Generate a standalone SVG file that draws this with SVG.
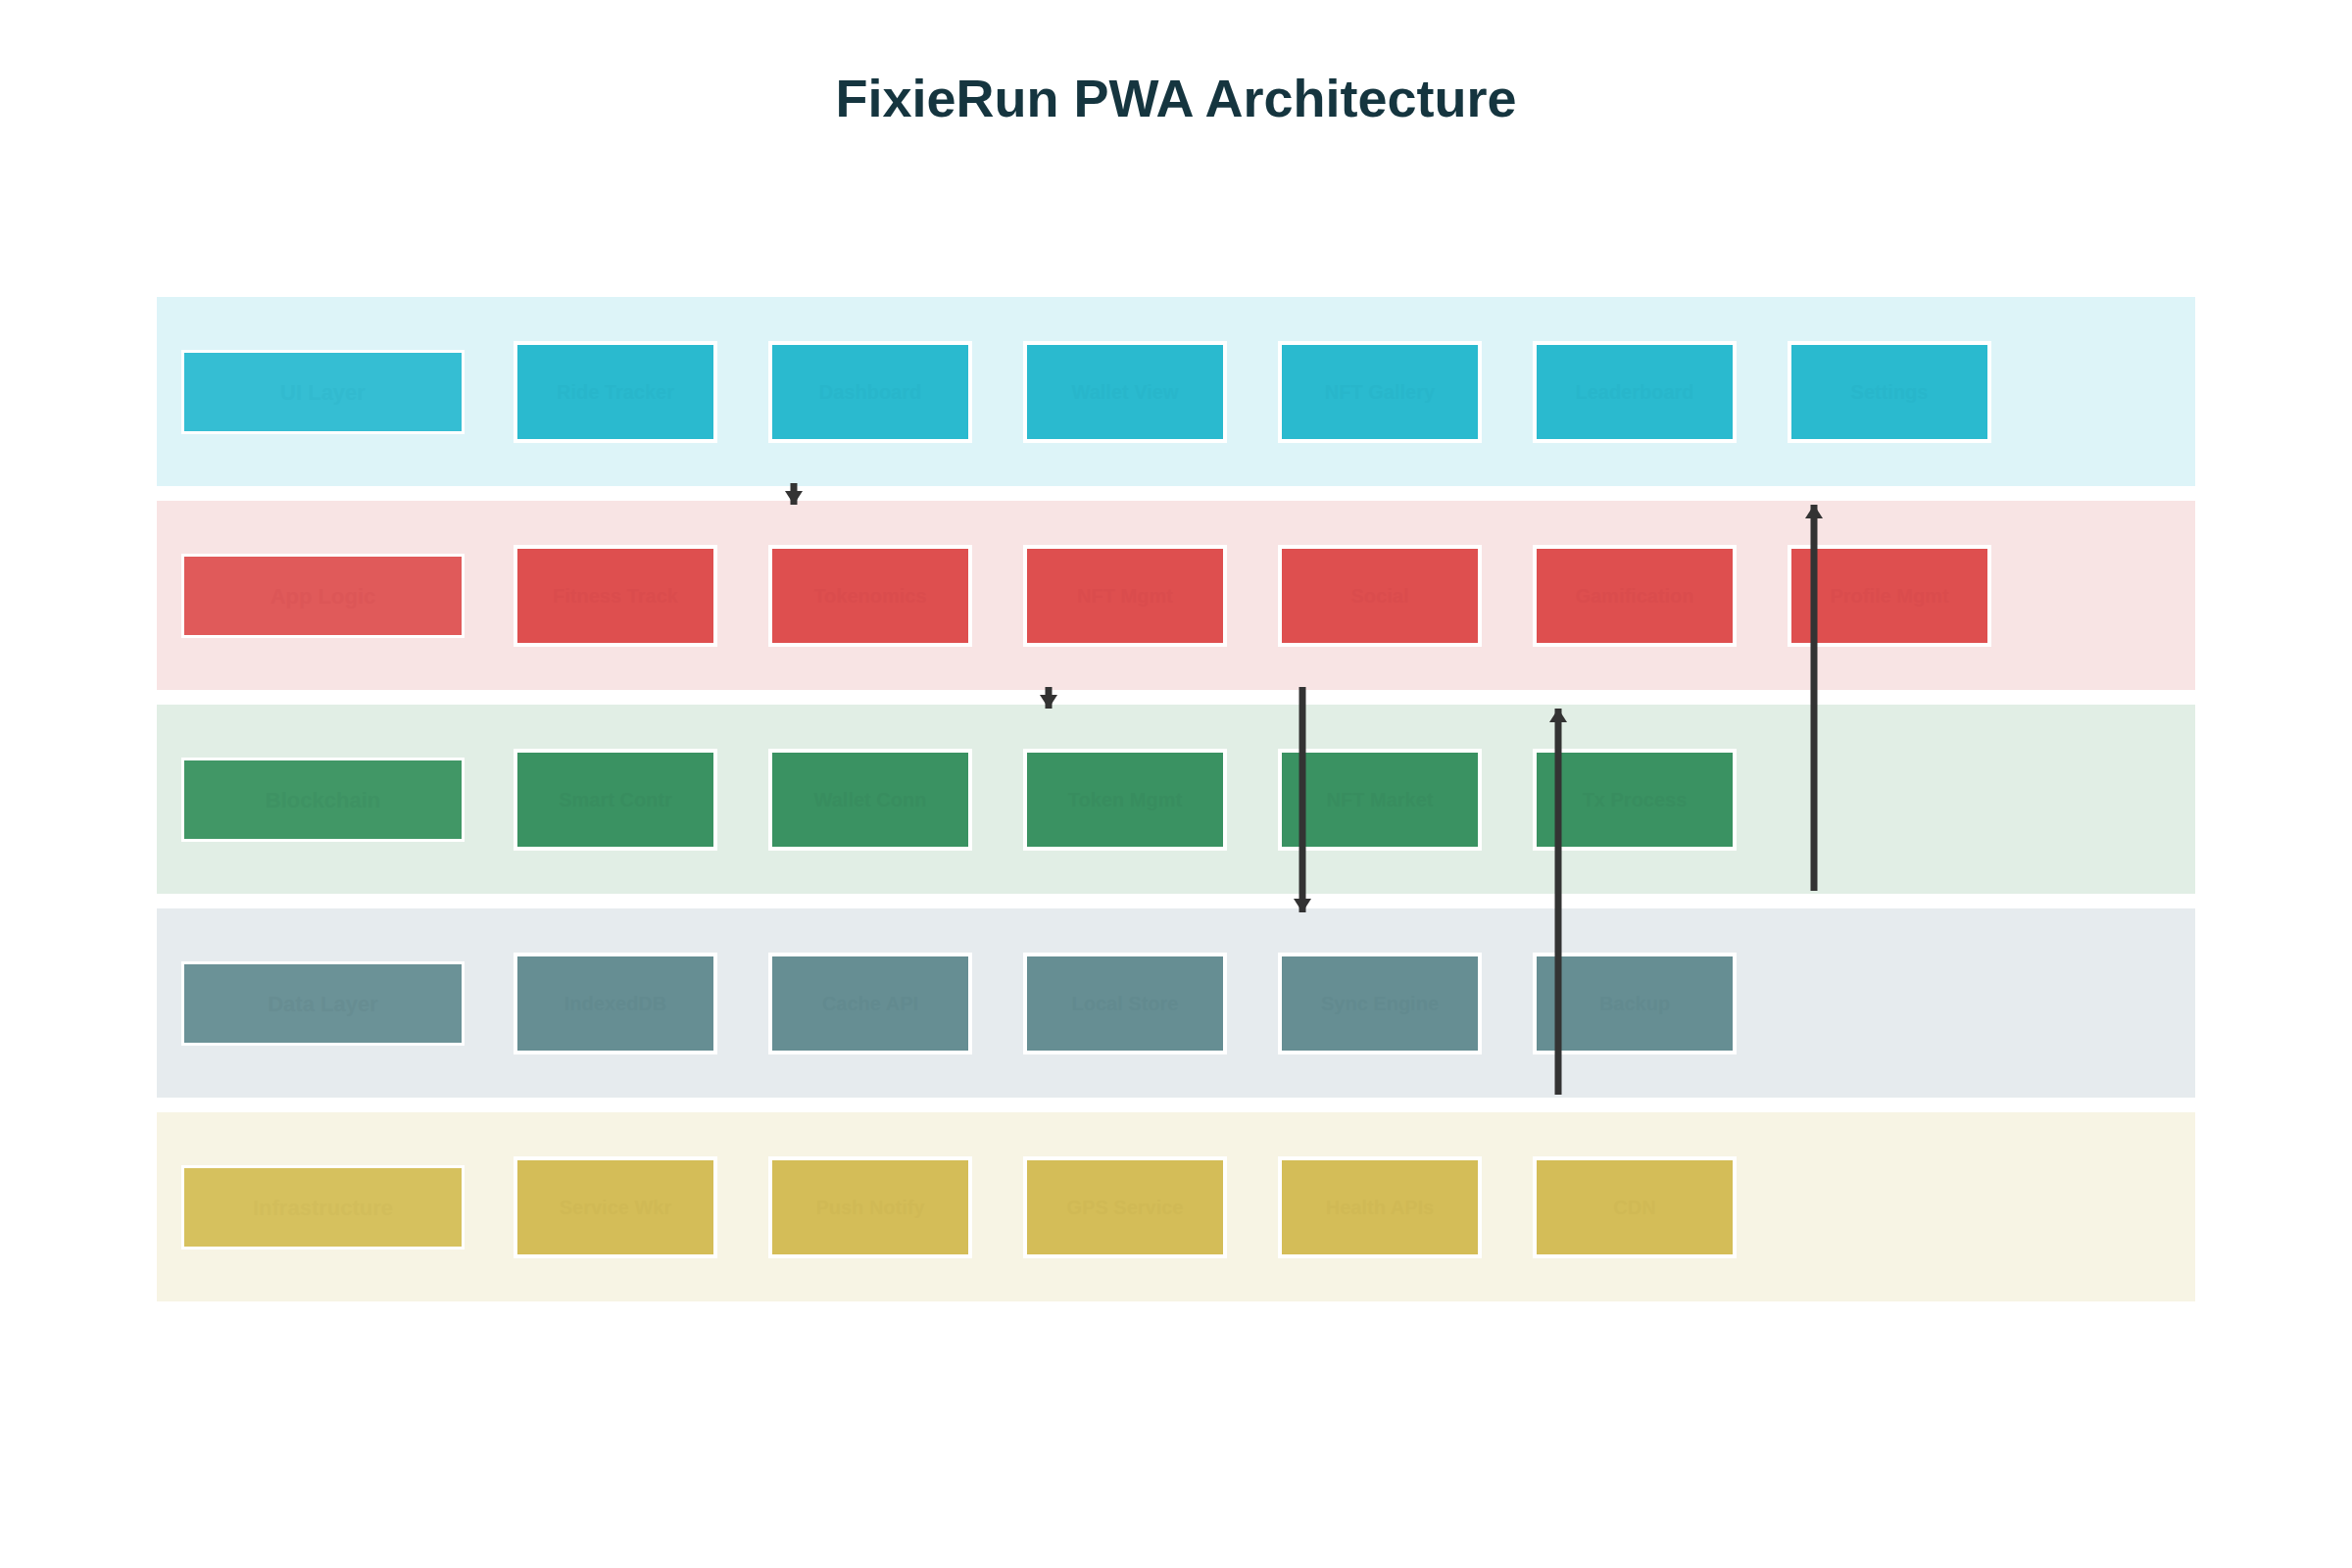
<svg xmlns="http://www.w3.org/2000/svg" width="2400" height="1600" viewBox="0 0 2400 1600">
<defs>
<style>
.title{font-family:"Liberation Sans",Arial,sans-serif;font-weight:bold;font-size:54px;fill:#15353f;text-anchor:middle}
.band{stroke:none}
.lbl{stroke:#ffffff;stroke-width:3}
.cmp{stroke:#ffffff;stroke-width:4}
.lt{font-family:"Liberation Sans",Arial,sans-serif;font-weight:bold;font-size:22px;text-anchor:middle;dominant-baseline:central}
.ct{font-family:"Liberation Sans",Arial,sans-serif;font-weight:bold;font-size:20px;text-anchor:middle;dominant-baseline:central}
.r1 .band{fill:#ddf4f8}.r1 .lbl{fill:#35bed3}.r1 .cmp{fill:#2abacf}.r1 .lt{fill:#32bacf}.r1 .ct{fill:#28b6cb}
.r2 .band{fill:#f8e4e4}.r2 .lbl{fill:#e05a5a}.r2 .cmp{fill:#de4f4f}.r2 .lt{fill:#dc5657}.r2 .ct{fill:#da4c4d}
.r3 .band{fill:#e1eee5}.r3 .lbl{fill:#419766}.r3 .cmp{fill:#3a9262}.r3 .lt{fill:#3e9263}.r3 .ct{fill:#388d5f}
.r4 .band{fill:#e6ebee}.r4 .lbl{fill:#6b9297}.r4 .cmp{fill:#668e93}.r4 .lt{fill:#678d92}.r4 .ct{fill:#628a8f}
.r5 .band{fill:#f7f4e4}.r5 .lbl{fill:#d6c15e}.r5 .cmp{fill:#d4bd58}.r5 .lt{fill:#d2bd5b}.r5 .ct{fill:#d0b955}
.conn{stroke:#333333;stroke-width:7;fill:none}
</style>
<marker id="ah" markerUnits="userSpaceOnUse" markerWidth="20" markerHeight="18" refX="14" refY="9" orient="auto">
<path d="M0,0 L14,9 L0,18 Z" fill="#333333"/>
</marker>
</defs>
<rect width="2400" height="1600" fill="#ffffff"/>
<text class="title" x="1200" y="119">FixieRun PWA Architecture</text>

<g id="layer-ui" class="r1">
<rect class="band" x="160" y="303" width="2080" height="193"/>
<g id="ui-layer"><rect class="lbl" x="186.5" y="358.5" width="286" height="83"/><text class="lt" x="329.5" y="400">UI Layer</text></g>
<g id="ui-1"><rect class="cmp" x="526" y="350" width="204" height="100"/><text class="ct" x="628" y="400">Ride Tracker</text></g>
<g id="ui-2"><rect class="cmp" x="786" y="350" width="204" height="100"/><text class="ct" x="888" y="400">Dashboard</text></g>
<g id="ui-3"><rect class="cmp" x="1046" y="350" width="204" height="100"/><text class="ct" x="1148" y="400">Wallet View</text></g>
<g id="ui-4"><rect class="cmp" x="1306" y="350" width="204" height="100"/><text class="ct" x="1408" y="400">NFT Gallery</text></g>
<g id="ui-5"><rect class="cmp" x="1566" y="350" width="204" height="100"/><text class="ct" x="1668" y="400">Leaderboard</text></g>
<g id="ui-6"><rect class="cmp" x="1826" y="350" width="204" height="100"/><text class="ct" x="1928" y="400">Settings</text></g>
</g>

<g id="layer-app" class="r2">
<rect class="band" x="160" y="511" width="2080" height="193"/>
<g id="app-layer"><rect class="lbl" x="186.5" y="566.5" width="286" height="83"/><text class="lt" x="329.5" y="608">App Logic</text></g>
<g id="app-1"><rect class="cmp" x="526" y="558" width="204" height="100"/><text class="ct" x="628" y="608">Fitness Track</text></g>
<g id="app-2"><rect class="cmp" x="786" y="558" width="204" height="100"/><text class="ct" x="888" y="608">Tokenomics</text></g>
<g id="app-3"><rect class="cmp" x="1046" y="558" width="204" height="100"/><text class="ct" x="1148" y="608">NFT Mgmt</text></g>
<g id="app-4"><rect class="cmp" x="1306" y="558" width="204" height="100"/><text class="ct" x="1408" y="608">Social</text></g>
<g id="app-5"><rect class="cmp" x="1566" y="558" width="204" height="100"/><text class="ct" x="1668" y="608">Gamification</text></g>
<g id="app-6"><rect class="cmp" x="1826" y="558" width="204" height="100"/><text class="ct" x="1928" y="608">Profile Mgmt</text></g>
</g>

<g id="layer-chain" class="r3">
<rect class="band" x="160" y="719" width="2080" height="193"/>
<g id="chain-layer"><rect class="lbl" x="186.5" y="774.5" width="286" height="83"/><text class="lt" x="329.5" y="816">Blockchain</text></g>
<g id="chain-1"><rect class="cmp" x="526" y="766" width="204" height="100"/><text class="ct" x="628" y="816">Smart Contr</text></g>
<g id="chain-2"><rect class="cmp" x="786" y="766" width="204" height="100"/><text class="ct" x="888" y="816">Wallet Conn</text></g>
<g id="chain-3"><rect class="cmp" x="1046" y="766" width="204" height="100"/><text class="ct" x="1148" y="816">Token Mgmt</text></g>
<g id="chain-4"><rect class="cmp" x="1306" y="766" width="204" height="100"/><text class="ct" x="1408" y="816">NFT Market</text></g>
<g id="chain-5"><rect class="cmp" x="1566" y="766" width="204" height="100"/><text class="ct" x="1668" y="816">Tx Process</text></g>
</g>

<g id="layer-data" class="r4">
<rect class="band" x="160" y="927" width="2080" height="193"/>
<g id="data-layer"><rect class="lbl" x="186.5" y="982.5" width="286" height="83"/><text class="lt" x="329.5" y="1024">Data Layer</text></g>
<g id="data-1"><rect class="cmp" x="526" y="974" width="204" height="100"/><text class="ct" x="628" y="1024">IndexedDB</text></g>
<g id="data-2"><rect class="cmp" x="786" y="974" width="204" height="100"/><text class="ct" x="888" y="1024">Cache API</text></g>
<g id="data-3"><rect class="cmp" x="1046" y="974" width="204" height="100"/><text class="ct" x="1148" y="1024">Local Store</text></g>
<g id="data-4"><rect class="cmp" x="1306" y="974" width="204" height="100"/><text class="ct" x="1408" y="1024">Sync Engine</text></g>
<g id="data-5"><rect class="cmp" x="1566" y="974" width="204" height="100"/><text class="ct" x="1668" y="1024">Backup</text></g>
</g>

<g id="layer-infra" class="r5">
<rect class="band" x="160" y="1135" width="2080" height="193"/>
<g id="infra-layer"><rect class="lbl" x="186.5" y="1190.5" width="286" height="83"/><text class="lt" x="329.5" y="1232">Infrastructure</text></g>
<g id="infra-1"><rect class="cmp" x="526" y="1182" width="204" height="100"/><text class="ct" x="628" y="1232">Service Wkr</text></g>
<g id="infra-2"><rect class="cmp" x="786" y="1182" width="204" height="100"/><text class="ct" x="888" y="1232">Push Notify</text></g>
<g id="infra-3"><rect class="cmp" x="1046" y="1182" width="204" height="100"/><text class="ct" x="1148" y="1232">GPS Service</text></g>
<g id="infra-4"><rect class="cmp" x="1306" y="1182" width="204" height="100"/><text class="ct" x="1408" y="1232">Health APIs</text></g>
<g id="infra-5"><rect class="cmp" x="1566" y="1182" width="204" height="100"/><text class="ct" x="1668" y="1232">CDN</text></g>
</g>

<g id="connectors">
<line class="conn" x1="810" y1="493" x2="810" y2="515" marker-end="url(#ah)"/>
<line class="conn" x1="1070" y1="701" x2="1070" y2="723" marker-end="url(#ah)"/>
<line class="conn" x1="1329" y1="701" x2="1329" y2="931" marker-end="url(#ah)"/>
<line class="conn" x1="1590" y1="1117" x2="1590" y2="723" marker-end="url(#ah)"/>
<line class="conn" x1="1851" y1="909" x2="1851" y2="515" marker-end="url(#ah)"/>
</g>
</svg>
